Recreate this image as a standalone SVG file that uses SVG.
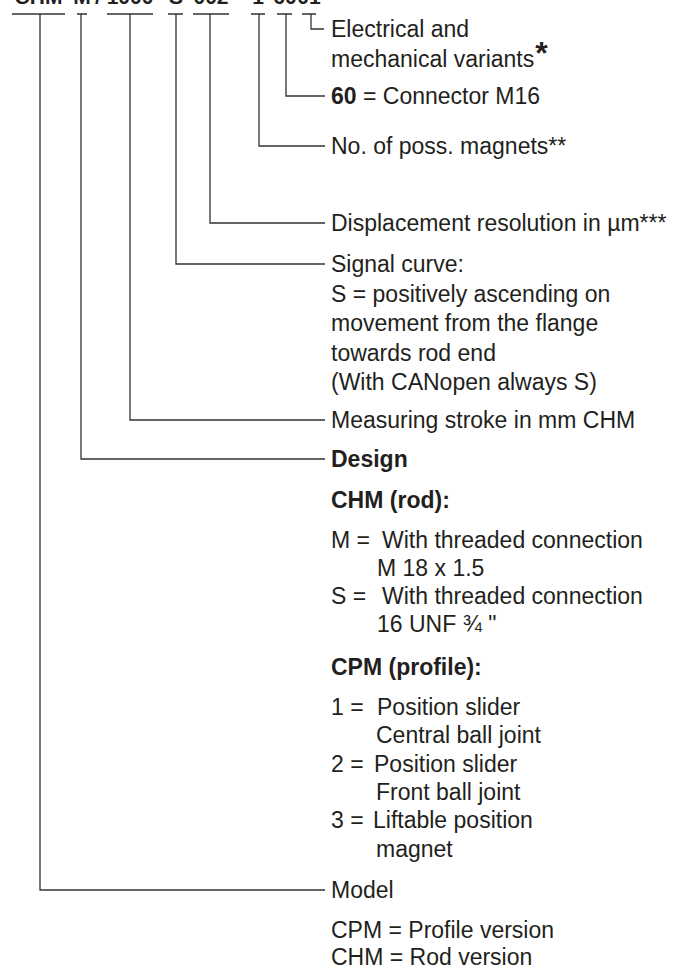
<svg xmlns="http://www.w3.org/2000/svg" width="678" height="968" viewBox="0 0 678 968">
<style>
.t{font-family:"Liberation Sans",Arial,sans-serif;font-size:23px;fill:#231f20}
.b{font-weight:bold}
.code{font-family:"Liberation Sans",Arial,sans-serif;font-size:21px;font-weight:bold;fill:#231f20;text-anchor:middle}
.c{fill:none;stroke:#333;stroke-width:1.3}
</style>
<rect width="678" height="968" fill="#fff"/>
<g id="code">
<text class="code" y="3.5"><tspan x="38.5">CHM</tspan><tspan x="82">M</tspan><tspan x="98">/</tspan><tspan x="130">1000</tspan><tspan x="176">S</tspan><tspan x="211">002</tspan><tspan x="258">1</tspan><tspan x="285">60</tspan><tspan x="309">01</tspan></text>
</g>
<g id="connectors" class="c">
<path d="M12 14H65M40 14V890H325"/>
<path d="M77 14H87M81 14V459H325"/>
<path d="M107 14H153M130 14V420H325"/>
<path d="M168 14H183M176 14V264H325"/>
<path d="M193 14H229M210 14V223H325"/>
<path d="M251 14H265M259 14V146H325"/>
<path d="M277 14H292M286 14V96H325"/>
<path d="M302 14H316M311 14V29H324"/>
</g>
<g id="variants">
<text class="t" x="331" y="37">Electrical and</text>
<text class="t" x="331" y="67">mechanical variants<tspan font-size="32" font-weight="bold" dx="1" dy="-3">*</tspan></text>
</g>
<g id="connector">
<text class="t" x="331" y="104"><tspan class="b">60</tspan> = Connector M16</text>
</g>
<g id="magnets">
<text class="t" x="331" y="154">No. of poss. magnets**</text>
</g>
<g id="resolution">
<text class="t" x="331" y="231">Displacement resolution in µm***</text>
</g>
<g id="signal">
<text class="t" x="331" y="272">Signal curve:</text>
<text class="t" x="331" y="302">S = positively ascending on</text>
<text class="t" x="331" y="331">movement from the flange</text>
<text class="t" x="331" y="361">towards rod end</text>
<text class="t" x="331" y="390">(With CANopen always S)</text>
</g>
<g id="stroke">
<text class="t" x="331" y="428">Measuring stroke in mm CHM</text>
</g>
<g id="design">
<text class="t b" x="331" y="467">Design</text>
<text class="t b" x="331" y="508">CHM (rod):</text>
<text class="t" y="548"><tspan x="331">M =</tspan><tspan x="382">With threaded connection</tspan></text>
<text class="t" x="377" y="576">M 18 x 1.5</text>
<text class="t" y="604"><tspan x="331">S =</tspan><tspan x="382">With threaded connection</tspan></text>
<text class="t" x="377" y="632">16 UNF ¾ "</text>
<text class="t b" x="331" y="675">CPM (profile):</text>
<text class="t" y="715"><tspan x="331">1 =</tspan><tspan x="377">Position slider</tspan></text>
<text class="t" x="376" y="743">Central ball joint</text>
<text class="t" y="772"><tspan x="331">2 =</tspan><tspan x="374">Position slider</tspan></text>
<text class="t" x="376" y="800">Front ball joint</text>
<text class="t" y="828"><tspan x="331">3 =</tspan><tspan x="373">Liftable position</tspan></text>
<text class="t" x="376" y="857">magnet</text>
</g>
<g id="model">
<text class="t" x="331" y="898">Model</text>
<text class="t" x="331" y="938">CPM = Profile version</text>
<text class="t" x="331" y="965">CHM = Rod version</text>
</g>
</svg>
